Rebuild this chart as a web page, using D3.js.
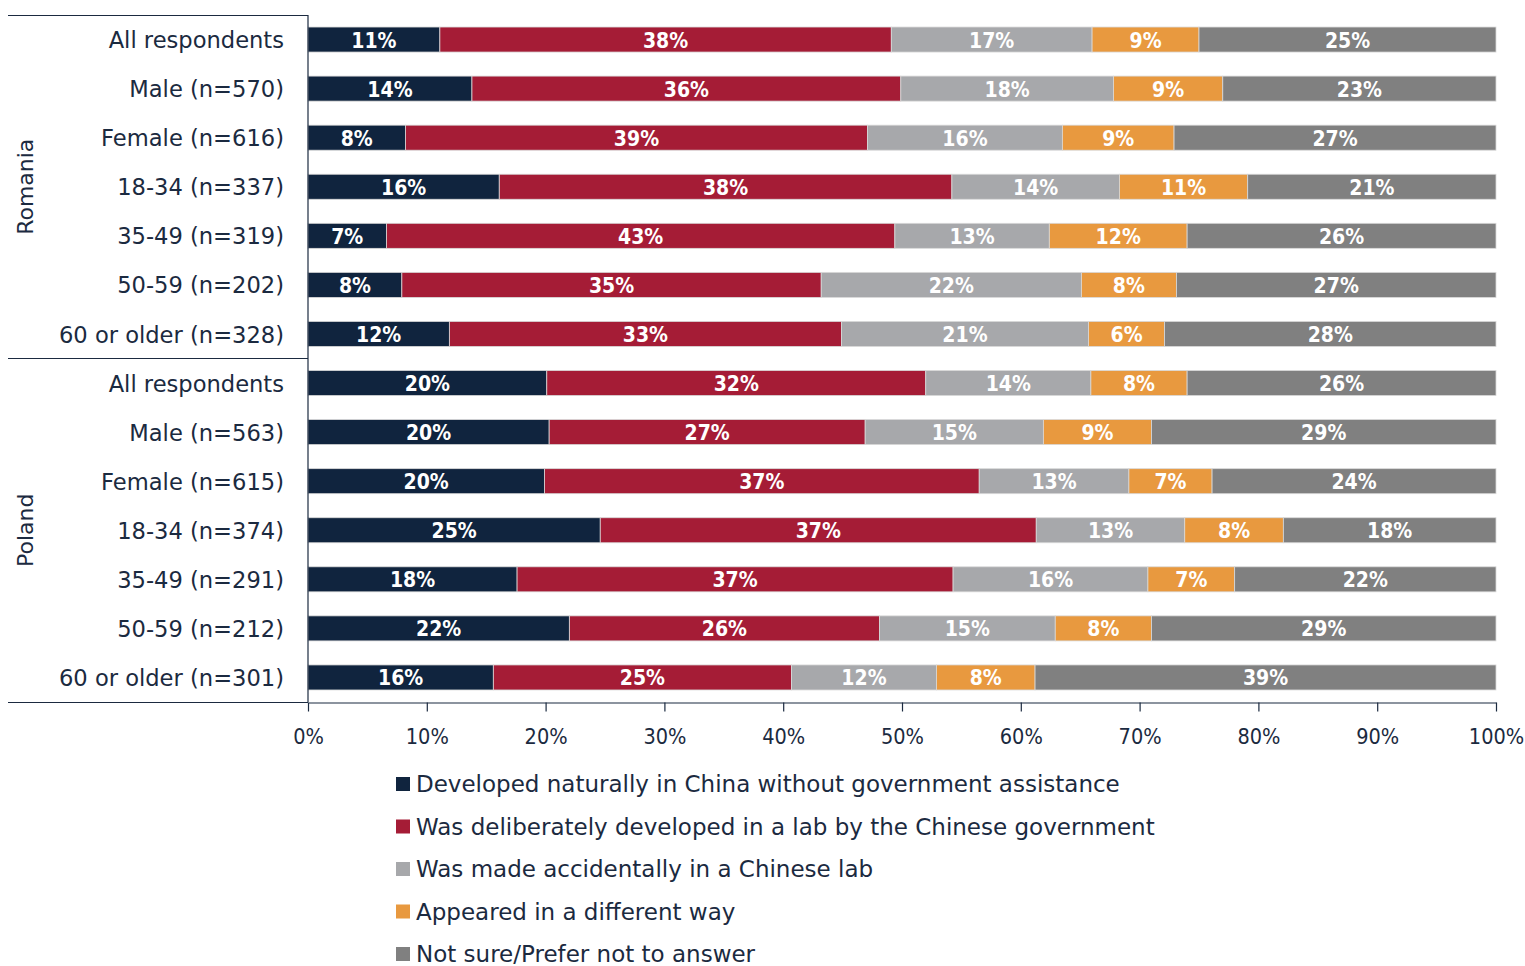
<!DOCTYPE html>
<html><head><meta charset="utf-8">
<script src="https://cdn.jsdelivr.net/npm/d3@7"></script>
<style>body{margin:0;background:#fff}</style>
</head><body>
<svg id="c" width="1525" height="966"></svg>
<script>
const countries = ["Romania", "Poland"];
const categories = ["All respondents","Male (n=570)","Female (n=616)","18-34 (n=337)","35-49 (n=319)","50-59 (n=202)","60 or older (n=328)",
  "All respondents ","Male (n=563)","Female (n=615)","18-34 (n=374)","35-49 (n=291)","50-59 (n=212)","60 or older (n=301)"];
const seriesNames = ["Developed naturally in China without government assistance","Was deliberately developed in a lab by the Chinese government","Was made accidentally in a Chinese lab","Appeared in a different way","Not sure/Prefer not to answer"];
const colors = ["#10243e","#a51c36","#a7a8ab","#e8993f","#808080"];
const naturally   = [11.1,13.8,8.2,16.1,6.6,7.9,11.9, 20.1,20.3,19.9,24.6,17.6,22.0,15.6];
const deliberate  = [38.0,36.1,38.9,38.1,42.8,35.3,33.0, 31.9,26.6,36.6,36.7,36.7,26.1,25.1];
const accidental  = [16.9,17.9,16.4,14.1,13.0,21.9,20.8, 13.9,15.0,12.6,12.5,16.4,14.8,12.2];
const different   = [9.0,9.2,9.4,10.8,11.6,8.0,6.4, 8.1,9.1,7.0,8.3,7.3,8.1,8.3];
const notSure     = [25.0,23.0,27.1,20.9,26.0,26.9,27.9, 26.0,29.0,23.9,17.9,22.0,29.0,38.8];
const labels = [
  [11,14,8,16,7,8,12,20,20,20,25,18,22,16],
  [38,36,39,38,43,35,33,32,27,37,37,37,26,25],
  [17,18,16,14,13,22,21,14,15,13,13,16,15,12],
  [9,9,9,11,12,8,6,8,9,7,8,7,8,8],
  [25,23,27,21,26,27,28,26,29,24,18,22,29,39]
];
const xTicks = [0,10,20,30,40,50,60,70,80,90,100];

const series = [naturally, deliberate, accidental, different, notSure];
const rows = categories.map((c,i)=>{const o={cat:c}; series.forEach((s,k)=>o["s"+k]=s[i]); return o;});
const keys = series.map((s,k)=>"s"+k);
const stack = d3.stack().keys(keys)(rows);

const svg = d3.select("#c");
const fontC = "'DejaVu Sans Condensed', 'DejaVu Sans', sans-serif";
const font = "'DejaVu Sans', sans-serif";
const textCol = "#1b2a40";
const x = d3.scaleLinear().domain([0,100]).range([308,1496]);
const y = d3.scaleBand().domain(categories).range([15,702]).paddingInner(0.49).paddingOuter(0.245);

// bars
svg.append("g").selectAll("g").data(stack).join("g")
  .attr("fill",(d,i)=>colors[i])
  .selectAll("rect").data(d=>d).join("rect")
  .attr("x",d=>x(d[0])).attr("width",d=>x(d[1])-x(d[0]))
  .attr("y",d=>y(d.data.cat)).attr("height",y.bandwidth())
  .attr("stroke","#d9d9d9").attr("stroke-width",0.8);

// bar labels
svg.append("g").selectAll("g").data(stack).join("g")
  .selectAll("text").data((d,i)=>d.map((v,j)=>({v,lab:labels[i][j]}))).join("text")
  .attr("x",d=>(x(d.v[0])+x(d.v[1]))/2)
  .attr("y",d=>y(d.v.data.cat)+y.bandwidth()/2)
  .attr("dy","0.38em").attr("text-anchor","middle")
  .attr("fill","#fff").attr("font-family",fontC).attr("font-weight","bold").attr("font-size",21)
  .text(d=>d.lab+"%");

// category labels
svg.append("g").selectAll("text").data(categories).join("text")
  .attr("x",284).attr("y",d=>y(d)+y.bandwidth()/2).attr("dy","0.38em")
  .attr("text-anchor","end").attr("fill",textCol).attr("font-family",font).attr("font-size",22.6)
  .text(d=>d.trim());

// group labels
const groupCenters = [ (y(categories[0])+y(categories[6])+y.bandwidth())/2, (y(categories[7])+y(categories[13])+y.bandwidth())/2 ];
svg.append("g").selectAll("text").data(countries).join("text")
  .attr("transform",(d,i)=>`translate(33,${groupCenters[i]}) rotate(-90)`)
  .attr("text-anchor","middle").attr("fill",textCol).attr("font-family",font).attr("font-size",22)
  .text(d=>d);

// frame lines
const lineCol = "#1b2a40";
const sepY = (y(categories[6])+y.bandwidth()+y(categories[7]))/2;
svg.append("line").attr("x1",8).attr("x2",308).attr("y1",15.5).attr("y2",15.5).attr("stroke",lineCol).attr("stroke-width",1.2);
svg.append("line").attr("x1",8).attr("x2",308).attr("y1",sepY).attr("y2",sepY).attr("stroke",lineCol).attr("stroke-width",1.2);
svg.append("line").attr("x1",308).attr("x2",308).attr("y1",15).attr("y2",702).attr("stroke",lineCol).attr("stroke-width",1.2);
svg.append("line").attr("x1",8).attr("x2",308).attr("y1",702.5).attr("y2",702.5).attr("stroke",lineCol).attr("stroke-width",1.2);

// x axis
const ax = svg.append("g").attr("transform","translate(0,702.5)")
  .call(d3.axisBottom(x).tickValues(xTicks).tickFormat(d=>d+"%").tickSize(9).tickSizeOuter(0));
ax.select(".domain").attr("stroke",lineCol).attr("stroke-width",1.2);
ax.selectAll(".tick line").attr("stroke",lineCol).attr("stroke-width",1.2);
ax.selectAll(".tick text").attr("fill",textCol).attr("font-family",fontC).attr("font-size",21.5).attr("y",34).attr("dy","0.36em");

// legend
const lg = svg.append("g").selectAll("g").data(seriesNames).join("g")
  .attr("transform",(d,i)=>`translate(396,${784+i*42.5})`);
lg.append("rect").attr("x",0).attr("y",-7).attr("width",14).attr("height",14).attr("fill",(d,i)=>colors[i]);
lg.append("text").attr("x",20).attr("dy","0.36em").attr("fill",textCol).attr("font-family",font).attr("font-size",23).text(d=>d);
</script>
</body></html>
